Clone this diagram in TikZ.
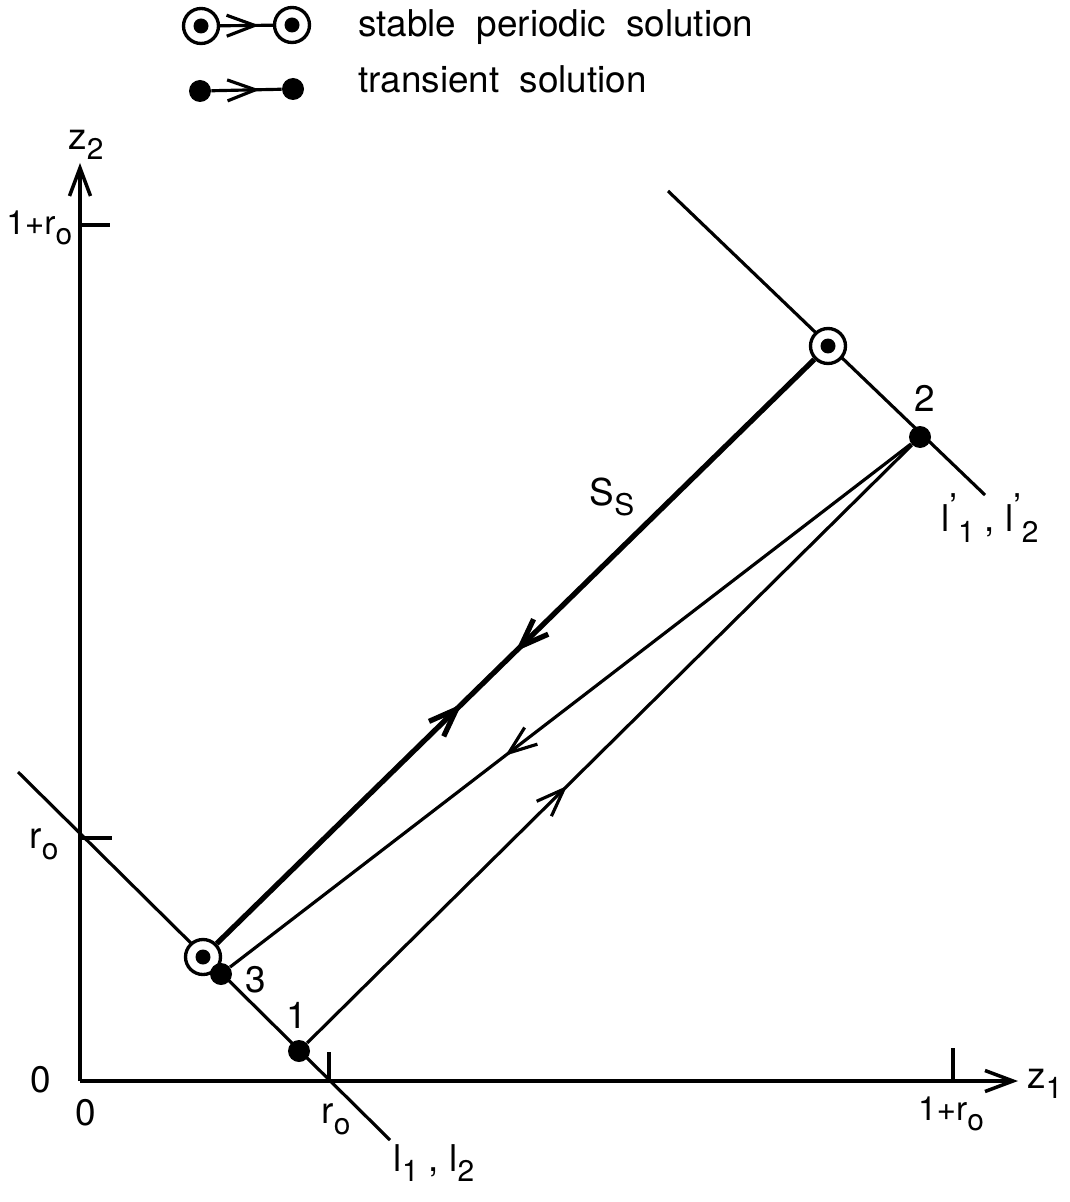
\documentclass[tikz,border=0pt]{standalone}
\usepackage{fontspec}
\setmainfont{TeX Gyre Heros}
\usetikzlibrary{arrows.meta,decorations.markings}
\newcommand\lowidx[1]{\raisebox{-0.55ex}{\fontsize{17}{17}\selectfont#1}}
\newcommand\legfont{\fontsize{21}{25}\selectfont\spaceskip=0.55em plus 0.1em\relax}

\begin{document}
\begin{tikzpicture}[
    x=0.02cm, y=-0.02cm,
    font=\fontsize{21}{25}\selectfont,
    >={Straight Barb[length=5.6mm,width=4.2mm]},
    axis/.style={line width=2pt, ->},
    curve/.style={line width=1.8pt},
    orbit/.style={line width=3pt},
    fwd/.style={postaction={decorate, decoration={markings, mark=at position #1 with {\arrow{>}}}}},
    bwd/.style={postaction={decorate, decoration={markings, mark=at position #1 with {\arrowreversed{>}}}}},
    stab/.style={circle, draw, line width=1.9pt, fill=white, minimum size=0.7cm, inner sep=0pt,
        path picture={\fill[black] (path picture bounding box.center) circle (0.15cm);}},
    tdot/.style={circle, fill, minimum size=0.44cm, inner sep=0pt},
    legtxt/.style={anchor=base west, font=\legfont},
    tick/.style={font=\fontsize{19}{22}\selectfont, inner sep=0pt}
]
\useasboundingbox (0,0) rectangle (1069,1202);

% legend
\node[stab] (legS1) at (201,26) {};
\node[stab] (legS2) at (292,25) {};
\node[tdot] (legT1) at (200,91) {};
\node[tdot] (legT2) at (293,89) {};
\draw[curve, fwd=0.74] (legS1) -- (legS2);
\draw[curve, fwd=0.69] (legT1) -- (legT2);
\node[legtxt] (legStxt) at (352,37) {stable periodic solution};
\node[legtxt] (legTtxt) at (352,93) {transient solution};

% axes and ticks
\coordinate (O) at (80,1081);
\coordinate (z2top) at (80,163);
\coordinate (z1end) at (1018,1081);
\draw[axis] (O) -- (z2top);
\draw[axis] (O) -- (z1end);
\coordinate (tz2a) at (80,225);
\coordinate (tz2b) at (80,838);
\coordinate (tz1a) at (329,1081);
\coordinate (tz1b) at (953,1081);
\draw[line width=1.8pt] (tz2a) -- ++(30,0);
\draw[line width=1.8pt] (tz2b) -- ++(32,0);
\draw[line width=1.8pt] (tz1a) -- ++(0,-29);
\draw[line width=1.8pt] (tz1b) -- ++(0,-33);

\node (z2lbl) at (86,145) {z\lowidx{2}};
\node (z1lbl) at (1045,1084) {z\lowidx{1}};
\node[tick, anchor=west] (onerz2) at (6,228) {1+r\lowidx{o}};
\node (rz2) at (44,844) {r\lowidx{o}};
\node (zeroz2) at (41,1080) {0};
\node (zeroz1) at (86,1113) {0};
\node (rz1) at (336,1119) {r\lowidx{o}};
\node[tick] (onerz1) at (951,1114) {1+r\lowidx{o}};

% the lines l and l'
\coordinate (lA) at (18,772);
\coordinate (lB) at (390,1140);
\coordinate (lpA) at (668,191);
\coordinate (lpB) at (985,495);
\draw[curve] (lA) -- (lB);
\draw[curve] (lpA) -- (lpB);
\node (llbl) at (434,1163) {l\lowidx{1} , l\lowidx{2}};
\node (lplbl) at (990,518) {l\raisebox{0.3em}{’}\lowidx{1} , l\raisebox{0.3em}{’}\lowidx{2}};

% solutions
\node[stab] (sLow) at (203,957) {};
\node[stab] (sUp) at (828,346) {};
\node[tdot] (p1) at (299,1051) {};
\node[tdot] (p2) at (920,437) {};
\node[tdot] (p3) at (221,974) {};

\draw[orbit, fwd=0.41, bwd=0.50] (sLow) -- (sUp);
\draw[curve, fwd=0.43] (p1) -- (p2);
\draw[curve, fwd=0.596] (p2) -- (p3);

\node (p1lbl) at (297,1015) {1};
\node (p2lbl) at (925,398) {2};
\node (p3lbl) at (256,980) {3};
\node (sslbl) at (612,497) {S\lowidx{S}};
\end{tikzpicture}
\end{document}
